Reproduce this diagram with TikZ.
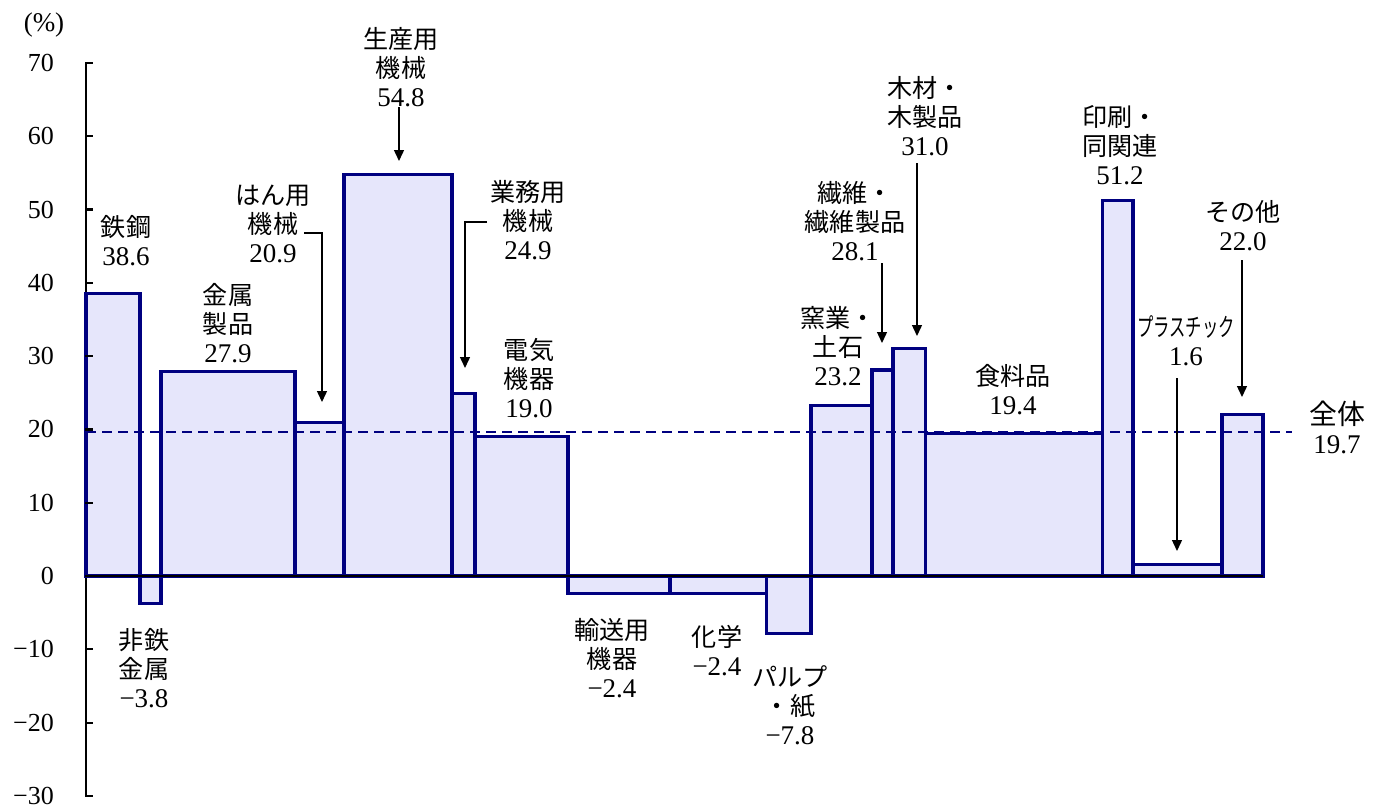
\documentclass[tikz,border=0pt]{standalone}
\usepackage{fontspec}
\setmainfont{Liberation Serif}
\newfontfamily\jp{Noto Sans CJK JP}[Scale=0.93]
\newfontfamily\jpn{Noto Sans CJK JP}[Scale=0.93,FakeStretch=0.65]
\usetikzlibrary{arrows.meta}
\definecolor{barline}{RGB}{0,0,128}
\definecolor{barfill}{RGB}{230,230,251}
\tikzset{
  barst/.style={draw=barline,fill=barfill,line width=3.1pt,line join=miter},
  tickst/.style={draw=black,line width=2.2pt},
  axl/.style={anchor=east,inner sep=0pt,font=\fontsize{26}{29}\selectfont},
  lbl/.style={align=center,inner sep=0pt,font=\fontsize{27}{29}\selectfont},
  arr/.style={draw=black,line width=1.4pt,-{Triangle[width=10pt,length=11pt]}},
  avg/.style={draw=barline,line width=1.8pt,dash pattern=on 10pt off 6pt}
}
\begin{document}
\begin{tikzpicture}[x=1pt,y=-1pt]
\useasboundingbox (0,0) rectangle (1379,809);
% axis
\draw[line width=2.2pt] (86,62) -- (86,796);
% bars
\draw[barst] (86,576) rectangle (140,293.1);
\draw[barst] (140,576) rectangle (161,603.9);
\draw[barst] (161,576) rectangle (295,371.5);
\draw[barst] (295,576) rectangle (344,422.8);
\draw[barst] (344,576) rectangle (452,174.3);
\draw[barst] (452,576) rectangle (475,393.5);
\draw[barst] (475,576) rectangle (568,436.7);
\draw[barst] (568,576) rectangle (670,593.6);
\draw[barst] (670,576) rectangle (766.5,593.6);
\draw[barst] (766.5,576) rectangle (811,633.2);
\draw[barst] (811,576) rectangle (872,405.9);
\draw[barst] (872,576) rectangle (893,370.0);
\draw[barst] (893,576) rectangle (925.5,348.8);
\draw[barst] (925.5,576) rectangle (1102.5,433.8);
\draw[barst] (1102.5,576) rectangle (1133,200.7);
\draw[barst] (1133,576) rectangle (1222,564.3);
\draw[barst] (1222,576) rectangle (1263,414.7);
% ticks and zero line
\foreach \v in {70,60,...,-30}
  \draw[tickst] (85,{576-7.33*\v}) -- (93,{576-7.33*\v});
\draw[line width=2.4pt] (85,576) -- (1263,576);
% average line
\coordinate (avgL) at (86,431.6);
\coordinate (avgR) at (1292,431.6);
\draw[avg] (avgL) -- (avgR);
% axis labels
\foreach \v/\t in {70/70,60/60,50/50,40/40,30/30,20/20,10/10,0/0,-10/{−10},-20/{−20},-30/{−30}}
  \node[axl] (t\v) at (54,{576-7.33*\v}) {\t};
\node[inner sep=0pt,font=\fontsize{27}{30}\selectfont] (pct) at (44,25) {(\%)};
% bar labels
\node[lbl] (l1) at (126,240.5) {{\jp 鉄鋼}\\38.6};
\node[lbl] (l2) at (144,668) {{\jp 非鉄}\\{\jp 金属}\\−3.8};
\node[lbl] (l3) at (228,323.5) {{\jp 金属}\\{\jp 製品}\\27.9};
\node[lbl] (l4) at (273,224) {{\jp はん用}\\{\jp 機械}\\20.9};
\node[lbl] (l5) at (401,67) {{\jp 生産用}\\{\jp 機械}\\54.8};
\node[lbl] (l6) at (528,220) {{\jp 業務用}\\{\jp 機械}\\24.9};
\node[lbl] (l7) at (529,378.5) {{\jp 電気}\\{\jp 機器}\\19.0};
\node[lbl] (l8) at (612,658) {{\jp 輸送用}\\{\jp 機器}\\−2.4};
\node[lbl] (l9) at (717,651) {{\jp 化学}\\−2.4};
\node[lbl] (l10) at (790,705.5) {{\jp パルプ}\\{\jp ・紙}\\−7.8};
\node[lbl] (l11) at (838,346.5) {{\jp 窯業・}\\{\jp 土石}\\23.2};
\node[lbl] (l12) at (855,221) {{\jp 繊維・}\\{\jp 繊維製品}\\28.1};
\node[lbl] (l13) at (925,116.5) {{\jp 木材・}\\{\jp 木製品}\\31.0};
\node[lbl] (l14) at (1013,390) {{\jp 食料品}\\19.4};
\node[lbl] (l15) at (1120,145) {{\jp 印刷・}\\{\jp 同関連}\\51.2};
\node[lbl] (l16) at (1186,341) {{\jpn プラスチック}\\1.6};
\node[lbl] (l17) at (1243,226) {{\jp その他}\\22.0};
\node[lbl] (l18) at (1337,427) {{\jp\fontsize{30}{29}\selectfont 全体}\\19.7};
% connectors
\coordinate (h4a) at (304,233);
\coordinate (h4b) at (322,402);
\draw[arr] (h4a) -| (h4b);
\coordinate (h6a) at (487,222);
\coordinate (h6b) at (465,368);
\draw[arr] (h6a) -| (h6b);
\coordinate (h5a) at (399,107);
\coordinate (h5b) at (399,161);
\draw[arr] (h5a) -- (h5b);
\coordinate (h12a) at (882,263);
\coordinate (h12b) at (882,343);
\draw[arr] (h12a) -- (h12b);
\coordinate (h13a) at (917,163);
\coordinate (h13b) at (917,336);
\draw[arr] (h13a) -- (h13b);
\coordinate (h16a) at (1177,378);
\coordinate (h16b) at (1177,551);
\draw[arr] (h16a) -- (h16b);
\coordinate (h17a) at (1242,260);
\coordinate (h17b) at (1242,397);
\draw[arr] (h17a) -- (h17b);
\end{tikzpicture}
\end{document}
